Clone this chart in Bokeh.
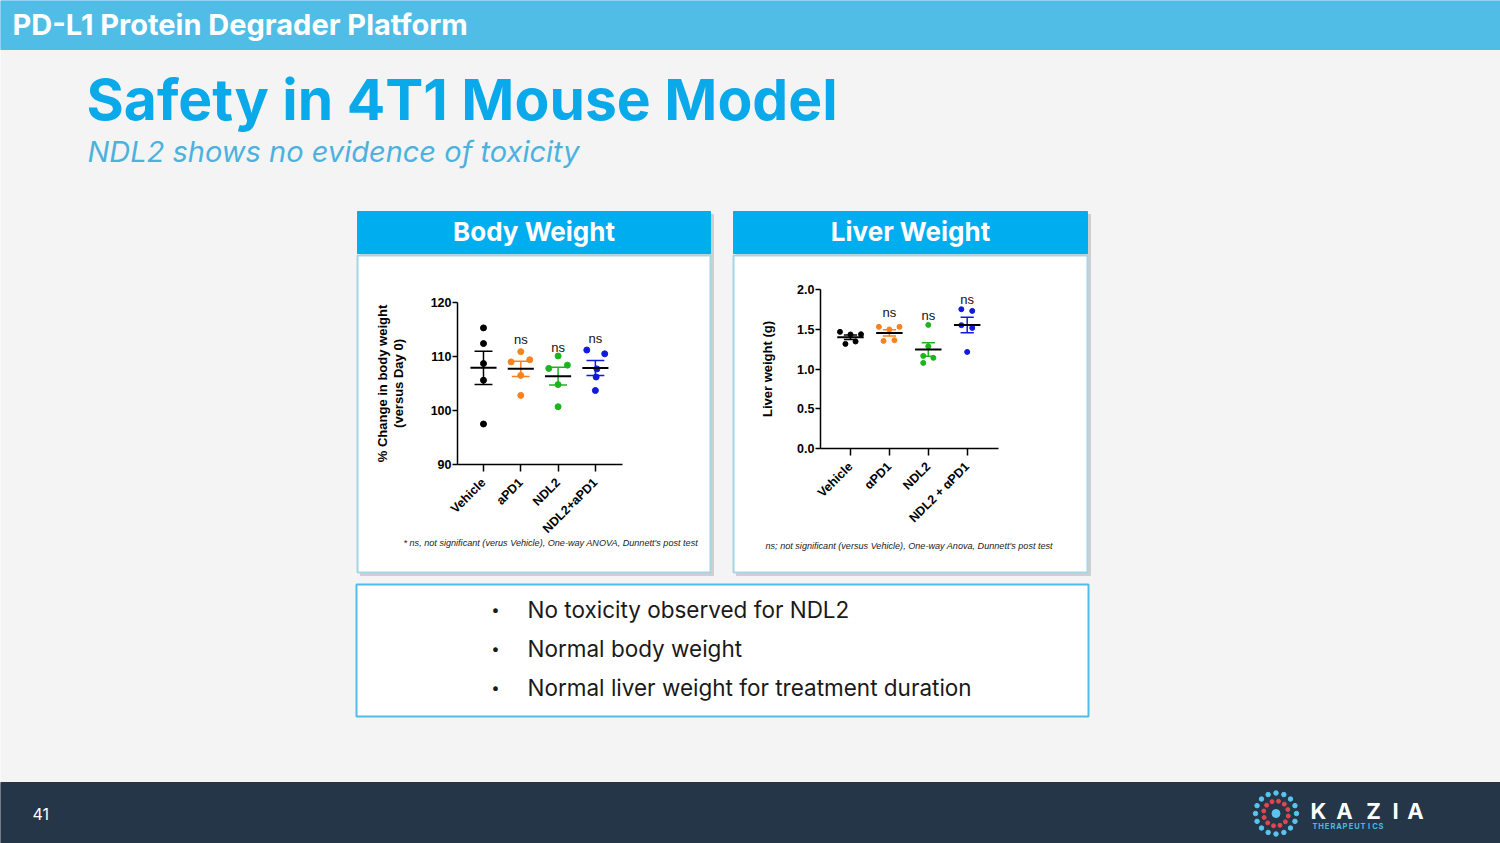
#Recreate the "Safety in 4T1 Mouse Model" slide with bokeh

##### IMPORT NECESSARY MODULES #####
import math
import numpy as np

from bokeh.plotting import figure
from bokeh.models import Range1d, FixedTicker, NumeralTickFormatter
from bokeh.core.properties import value
from bokeh.embed import file_html
from bokeh.resources import INLINE

#### DATA ####
group_pos = [1, 2, 3, 4]
body_labels = ["Vehicle", "aPD1", "NDL2", "NDL2+aPD1"]
liver_labels = ["Vehicle", "\u03b1PD1", "NDL2", "NDL2 + \u03b1PD1"]
group_colors = ["#000000", "#F7831E", "#1CB51C", "#0F1BD8"]

#body weight, % change versus day 0 (one value per mouse)
body_vehicle = [115.3, 112.4, 108.7, 105.6, 97.5]
body_apd1 = [110.9, 109.0, 109.4, 106.5, 102.8]
body_ndl2 = [110.1, 107.8, 108.4, 104.8, 100.7]
body_combo = [111.2, 110.5, 107.7, 106.2, 103.7]
#horizontal scatter of the dots, in category units
body_jitter = [[0, 0, 0, 0, 0],
               [0, -0.26, 0.24, 0, 0],
               [0, -0.25, 0.25, 0, 0],
               [-0.23, 0.25, 0.04, 0.02, 0]]
body_ns_pos = [2, 3, 4]
body_ns_y = [113.1, 111.7, 113.3]
body_yticks = [90, 100, 110, 120]

#liver weight in grams
liver_vehicle = [1.467, 1.434, 1.437, 1.316, 1.346]
liver_apd1 = [1.530, 1.497, 1.530, 1.353, 1.362]
liver_ndl2 = [1.555, 1.285, 1.165, 1.140, 1.077]
liver_combo = [1.752, 1.731, 1.551, 1.517, 1.215]
liver_jitter = [[-0.27, 0, 0.27, -0.13, 0.13],
                [-0.27, 0, 0.26, -0.15, 0.13],
                [0, 0, -0.13, 0.13, -0.13],
                [-0.15, 0.13, -0.15, 0.13, 0]]
liver_ns_pos = [2, 3, 4]
liver_ns_y = [1.711, 1.668, 1.878]
liver_yticks = [0.0, 0.5, 1.0, 1.5, 2.0]

bullets = ["No toxicity observed for NDL2",
           "Normal body weight",
           "Normal liver weight for treatment duration"]

#### COLORS ####
BG = "#F4F4F4"
TOP_BAR = "#50BDE6"
TITLE_BLUE = "#0AA9E9"
SUB_BLUE = "#4BB2DF"
PANEL_BLUE = "#00AEEF"
NAVY = "#243647"


#### DOT PLOT (scatter + mean + SEM) ####
def dot_chart(series, jitter, labels, ns_pos, ns_y, yticks, ylabel, yfmt,
              x_rng, y_rng, left, top, borders, frame_w, frame_h,
              dot_size, mean_half, cap_half, label_standoff):
    bl, bt, br, bb = borders
    p = figure(width=bl + frame_w + br, height=bt + frame_h + bb,
               x_range=Range1d(*x_rng), y_range=Range1d(*y_rng),
               output_backend="svg", toolbar_location=None,
               min_border_left=bl, min_border_top=bt,
               min_border_right=br, min_border_bottom=bb,
               background_fill_color=None, border_fill_color=None,
               outline_line_color=None,
               styles={"position": "absolute", "left": f"{left}px", "top": f"{top}px"})

    for g, vals, jit, col in zip(group_pos, series, jitter, group_colors):
        xs = [g + j for j in jit]
        p.scatter(xs, vals, size=dot_size, color=col)
        m = float(np.mean(vals))
        s = float(np.std(vals, ddof=1) / np.sqrt(len(vals)))
        p.segment([g], [m - s], [g], [m + s], line_color=col, line_width=1.5)
        p.segment([g - cap_half] * 2, [m - s, m + s], [g + cap_half] * 2, [m - s, m + s],
                  line_color=col, line_width=1.5)
        p.segment([g - mean_half], [m], [g + mean_half], [m], line_color="black", line_width=2)

    p.text(ns_pos, ns_y, text=["ns"] * len(ns_pos), text_align="center", text_baseline="middle",
           text_font=value("Liberation Sans"), text_font_size="13px", text_color="#111111")

    p.xgrid.visible = False
    p.ygrid.visible = False
    for ax in (p.xaxis[0], p.yaxis[0]):
        ax.axis_line_width = 1.5
        ax.axis_line_color = "black"
        ax.major_tick_line_width = 1.5
        ax.major_tick_line_color = "black"
        ax.minor_tick_line_color = None
        ax.major_tick_in = 0
        ax.major_label_text_font = "Liberation Sans"
        ax.major_label_text_font_style = "bold"
        ax.major_label_text_font_size = "12.5px"
        ax.major_label_text_color = "black"

    p.xaxis.ticker = FixedTicker(ticks=group_pos)
    p.xaxis.major_label_overrides = dict(zip(group_pos, labels))
    p.xaxis.major_label_orientation = math.pi / 4
    p.xaxis.major_tick_out = 7
    p.xaxis.major_label_standoff = 9

    p.yaxis.ticker = FixedTicker(ticks=yticks)
    p.yaxis.formatter = NumeralTickFormatter(format=yfmt)
    p.yaxis.major_tick_out = 5
    p.yaxis.major_label_standoff = 1
    p.yaxis.axis_label = ylabel
    p.yaxis.axis_label_standoff = label_standoff
    p.yaxis.axis_label_text_font = "Liberation Sans"
    p.yaxis.axis_label_text_font_style = "bold"
    p.yaxis.axis_label_text_font_size = "13px"
    p.yaxis.axis_label_text_line_height = 1.05
    p.yaxis.axis_label_text_color = "black"
    return p


#### SLIDE BACKGROUND (1 data unit = 1 screen pixel) ####
bg = figure(width=1500, height=843, x_range=Range1d(0, 1500), y_range=Range1d(843, 0),
            output_backend="svg", toolbar_location=None, min_border=0,
            x_axis_location=None, y_axis_location=None,
            background_fill_color=BG, border_fill_color=BG, outline_line_color=None)
bg.xgrid.visible = False
bg.ygrid.visible = False

#top bar and footer
bg.quad(left=[0], right=[1500], top=[0], bottom=[49], color=TOP_BAR)
bg.quad(left=[0], right=[1500], top=[782], bottom=[843], color=NAVY)

def txt(x, y, s, size, color, font="Inter", style="normal", align="left"):
    bg.text([x], [y], text=[s], text_font=value(font), text_font_style=style,
            text_font_size=size, text_color=color, text_align=align, text_baseline="middle")

txt(12, 24, "PD-L1 Protein Degrader Platform", "29px", "white", style="bold")
txt(86, 99, "Safety in 4T1 Mouse Model", "57px", TITLE_BLUE, style="bold")
txt(87, 151, "NDL2 shows no evidence of toxicity", "29px", SUB_BLUE, style="italic")

#panels with shadow
for x0, x1, name in [(357, 710, "Body Weight"), (733, 1087, "Liver Weight")]:
    bg.quad(left=[x0 + 3], right=[x1 + 3], top=[214], bottom=[575], color="#CFCFCF")
    bg.quad(left=[x0], right=[x1], top=[211], bottom=[253], color=PANEL_BLUE)
    bg.quad(left=[x0], right=[x1], top=[255], bottom=[572], fill_color="white",
            line_color="#A8D4E8", line_width=2)
    txt((x0 + x1) / 2, 231, name, "26px", "white", style="bold", align="center")

txt(403, 542, "* ns, not significant (verus Vehicle), One-way ANOVA, Dunnett's post test",
    "9.1px", "#222222", font="Liberation Sans", style="italic")
txt(765, 545, "ns; not significant (versus Vehicle), One-way Anova, Dunnett's post test",
    "9.1px", "#222222", font="Liberation Sans", style="italic")

#bullet box
bg.quad(left=[356], right=[1088], top=[584], bottom=[716], fill_color="white",
        line_color=TOP_BAR, line_width=2)
for i, b in enumerate(bullets):
    txt(495, 609 + 39 * i, "\u2022", "15px", "#1A1A1A", align="center")
    txt(527, 609 + 39 * i, b, "22.5px", "#1A1A1A")

#footer: page number and logo
txt(32, 813, "41", "16px", "white")
ang_out = np.linspace(0, 2 * np.pi, 16, endpoint=False)
ang_in = np.linspace(0, 2 * np.pi, 12, endpoint=False) + 0.2
bg.scatter(1275.5 + 20.5 * np.cos(ang_out), 813 + 20.5 * np.sin(ang_out), size=4.5, color="#5BC4EE")
bg.scatter(1275.5 + 12.5 * np.cos(ang_in), 813 + 12.5 * np.sin(ang_in), size=4, color="#E04850")
bg.scatter([1275.5], [813], size=8, color="#5BC4EE")
for x, ch in zip([1318, 1344, 1373, 1395, 1415], "KAZIA"):
    txt(x, 810, ch, "22px", "white", style="bold", align="center")
for i, ch in enumerate("THERAPEUTICS"):
    txt(1314.5 + 6.0 * i, 826, ch, "7.5px", "#4FB8E0", style="bold", align="center")


#### CHARTS ####
body = dot_chart([body_vehicle, body_apd1, body_ndl2, body_combo], body_jitter,
                 body_labels, body_ns_pos, body_ns_y, body_yticks,
                 "% Change in body weight\n(versus Day 0)", "0",
                 (0.303, 4.727), (90, 120), left=370, top=272,
                 borders=(87, 30, 78, 80), frame_w=165, frame_h=162,
                 dot_size=6, mean_half=0.35, cap_half=0.24, label_standoff=22)

liver = dot_chart([liver_vehicle, liver_apd1, liver_ndl2, liver_combo], liver_jitter,
                  liver_labels, liver_ns_pos, liver_ns_y, liver_yticks,
                  "Liver weight (g)", "0.0",
                  (0.229, 4.805), (0, 2), left=745, top=269,
                  borders=(75, 20, 22, 90), frame_w=178, frame_h=159,
                  dot_size=5, mean_half=0.34, cap_half=0.17, label_standoff=19)

p = [bg, body, liver]
open("out.html", "w").write(file_html(p, INLINE))
